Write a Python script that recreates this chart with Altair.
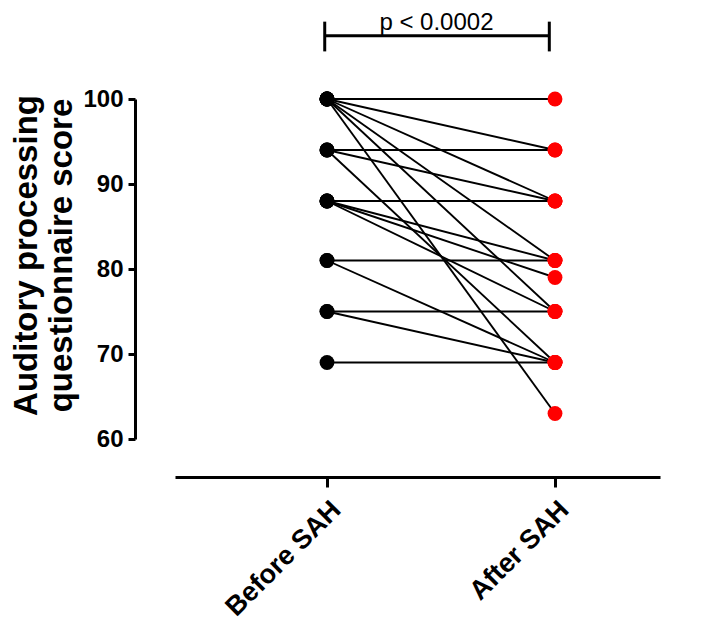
import altair as alt
import pandas as pd

# Paired scores (each index = one subject)
before_scores = [100, 100, 100, 100, 100, 100, 94, 94, 94, 88, 88, 88, 88, 81, 81, 75, 75, 69]
after_scores = [100, 94, 88, 81, 75, 63, 94, 88, 69, 88, 81, 79, 75, 81, 69, 75, 69, 69]
groups = ["Before SAH", "After SAH"]
y_ticks = [60, 70, 80, 90, 100]
p_label = "p < 0.0002"

rows = []
for i, (b, a) in enumerate(zip(before_scores, after_scores)):
    rows.append({"subject": i, "pos": 0, "group": groups[0], "score": b})
    rows.append({"subject": i, "pos": 1, "group": groups[1], "score": a})
df = pd.DataFrame(rows)

FONT = "Liberation Sans"

x_scale = alt.Scale(domain=[-0.6667, 1.4605], nice=False, zero=False)
y_scale = alt.Scale(domain=[60, 100], nice=False, zero=False)

x_axis = alt.Axis(
    values=[0, 1],
    labelExpr="datum.value == 0 ? 'Before SAH' : 'After SAH'",
    labelAngle=-45, labelAlign="right", labelBaseline="top",
    labelFont=FONT, labelFontSize=27, labelFontWeight="bold", labelColor="black",
    labelPadding=9, tickSize=10, tickWidth=3, tickColor="black",
    domainWidth=3, domainColor="black", grid=False, title=None, offset=38,
)
y_axis = alt.Axis(
    values=y_ticks,
    labelFont=FONT, labelFontSize=24, labelFontWeight="bold", labelColor="black",
    labelPadding=5, tickSize=7, tickWidth=3, tickColor="black",
    domainWidth=3, domainColor="black", grid=False, offset=40,
    title=["Auditory processing", "questionnaire score"],
    titleFont=FONT, titleFontSize=33, titleFontWeight="bold", titleColor="black",
    titlePadding=4, titleLineHeight=35, titleY=156,
)

base = alt.Chart(df)

lines = base.mark_line(color="black", strokeWidth=1.9).encode(
    x=alt.X("pos:Q", scale=x_scale, axis=x_axis),
    y=alt.Y("score:Q", scale=y_scale, axis=y_axis),
    detail="subject:N",
)

points = base.mark_circle(size=220, opacity=1).encode(
    x=alt.X("pos:Q", scale=x_scale),
    y=alt.Y("score:Q", scale=y_scale),
    color=alt.Color("group:N", scale=alt.Scale(domain=groups, range=["black", "#ff0000"]), legend=None),
)

# significance bracket
br_df = pd.DataFrame({"x1": [-0.01], "x2": [0.975], "y": [107.45], "ylo": [105.6], "yhi": [109.1],
                      "tx": [0.48], "ty": [108.1], "label": [p_label]})
br = alt.Chart(br_df)
hbar = br.mark_rule(color="black", strokeWidth=3).encode(
    x=alt.X("x1:Q", scale=x_scale), x2="x2:Q", y=alt.Y("y:Q", scale=y_scale))
lcap = br.mark_rule(color="black", strokeWidth=3).encode(
    x=alt.X("x1:Q", scale=x_scale), y=alt.Y("ylo:Q", scale=y_scale), y2="yhi:Q")
rcap = br.mark_rule(color="black", strokeWidth=3).encode(
    x=alt.X("x2:Q", scale=x_scale), y=alt.Y("ylo:Q", scale=y_scale), y2="yhi:Q")
ptext = br.mark_text(font=FONT, fontSize=24, align="center", baseline="alphabetic", color="black").encode(
    x=alt.X("tx:Q", scale=x_scale), y=alt.Y("ty:Q", scale=y_scale), text="label:N")

chart = alt.layer(lines, points, hbar, lcap, rcap, ptext).properties(
    width=485, height=340,
    padding={"left": 167, "top": 91, "right": 40, "bottom": 185},
    autosize=alt.AutoSizeParams(type="none"),
    background="white",
).configure_view(stroke=None, strokeWidth=0)

chart.save("out.html", embed_options={"renderer": "svg", "actions": False})
